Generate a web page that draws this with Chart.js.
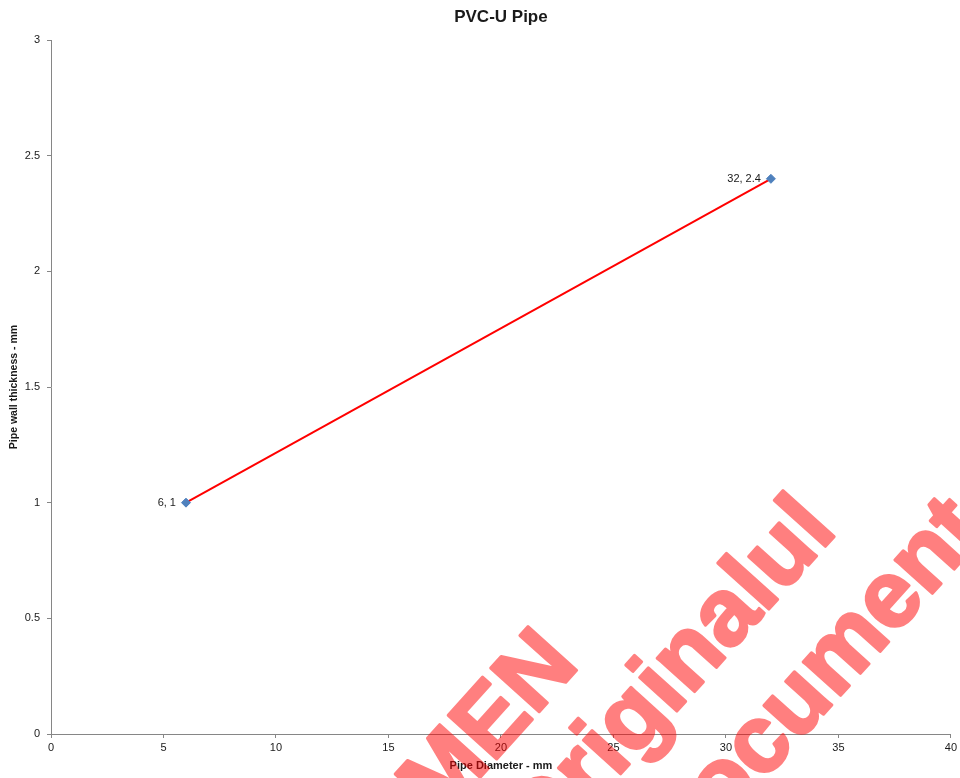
<!DOCTYPE html>
<html>
<head>
<meta charset="utf-8">
<script src="https://cdn.jsdelivr.net/npm/chart.js@4.4.1/dist/chart.umd.min.js"></script>
<style>
  html, body { margin: 0; padding: 0; background: #fff; }
  #wrap { width: 960px; height: 778px; }
</style>
</head>
<body>
<div id="wrap"><canvas id="pipeChart" width="960" height="778"></canvas></div>
<script>
const pipeDiameter = [6, 32];
const wallThickness = [1, 2.4];
const xTicks = [0, 5, 10, 15, 20, 25, 30, 35, 40];
const yTicks = [0, 0.5, 1, 1.5, 2, 2.5, 3];
const chartTitle = "PVC-U Pipe";
const watermarkLines = ["SPECIMEN", "Originalul", "Document"];

const FONT = "'Liberation Sans', Arial, sans-serif";
const TEXT = "#1a1a1a";
const AXIS = "#868686";

// title centred over the plot area, point labels, watermark on top
const extras = {
  id: "extras",
  afterDatasetsDraw(chart) {
    const { ctx, chartArea } = chart;
    const xs = chart.scales.x, ys = chart.scales.y;
    ctx.save();
    ctx.fillStyle = TEXT;
    ctx.font = "bold 17px " + FONT;
    ctx.textAlign = "center";
    ctx.textBaseline = "middle";
    ctx.fillText(chartTitle, (chartArea.left + chartArea.right) / 2, 17);

    ctx.font = "11px " + FONT;
    ctx.textAlign = "right";
    pipeDiameter.forEach((d, i) => {
      const px = xs.getPixelForValue(d);
      const py = ys.getPixelForValue(wallThickness[i]);
      ctx.fillText(`${d}, ${wallThickness[i]}`, px - 10, py);
    });
    ctx.restore();
  },
  afterDraw(chart) {
    // draw solid on a scratch canvas, then lay it over at half opacity
    const off = document.createElement("canvas");
    off.width = chart.width;
    off.height = chart.height;
    const o = off.getContext("2d");
    o.rotate(-48 * Math.PI / 180);
    o.fillStyle = "#ff0000";
    o.strokeStyle = "#ff0000";
    o.lineWidth = 3;
    o.lineJoin = "round";
    o.font = "bold 95px " + FONT;
    o.textAlign = "right";
    o.textBaseline = "alphabetic";
    const anchors = [[-106, 877], [166, 979], [266, 1090]];
    watermarkLines.forEach((t, i) => {
      o.fillText(t, anchors[i][0], anchors[i][1]);
      o.strokeText(t, anchors[i][0], anchors[i][1]);
    });
    const ctx = chart.ctx;
    ctx.save();
    ctx.globalAlpha = 0.5;
    ctx.drawImage(off, 0, 0);
    ctx.restore();
  }
};

new Chart(document.getElementById("pipeChart"), {
  type: "scatter",
  data: {
    datasets: [{
      data: pipeDiameter.map((d, i) => ({ x: d, y: wallThickness[i] })),
      showLine: true,
      borderColor: "#ff0000",
      borderWidth: 2,
      pointStyle: "rectRot",
      pointRadius: 4.5,
      pointBackgroundColor: "#4f81bd",
      pointBorderColor: "#4f81bd",
      pointBorderWidth: 1
    }]
  },
  options: {
    responsive: false,
    animation: false,
    layout: { padding: { top: 40, right: 9, bottom: 0, left: 0 } },
    plugins: {
      legend: { display: false },
      tooltip: { enabled: false },
      title: { display: false }
    },
    scales: {
      x: {
        type: "linear",
        min: 0,
        max: 40,
        afterBuildTicks: s => { s.ticks = xTicks.map(v => ({ value: v })); },
        afterFit: s => { s.height = 44; },
        grid: { drawOnChartArea: false, drawTicks: true, tickLength: 4, color: AXIS },
        border: { color: AXIS, width: 1 },
        ticks: { color: TEXT, font: { family: FONT, size: 11 }, padding: 3, maxRotation: 0, callback: v => String(v) },
        title: {
          display: true,
          text: "Pipe Diameter - mm",
          color: TEXT,
          font: { family: FONT, size: 11, weight: "bold" },
          padding: { top: 4, bottom: 5 }
        }
      },
      y: {
        type: "linear",
        min: 0,
        max: 3,
        afterBuildTicks: s => { s.ticks = yTicks.map(v => ({ value: v })); },
        afterFit: s => { s.width = 51; },
        grid: { drawOnChartArea: false, drawTicks: true, tickLength: 4, color: AXIS },
        border: { color: AXIS, width: 1 },
        ticks: { color: TEXT, font: { family: FONT, size: 11 }, padding: 7, callback: v => String(v) },
        title: {
          display: true,
          text: "Pipe wall thickness - mm",
          color: TEXT,
          font: { family: FONT, size: 10.5, weight: "bold" },
          padding: { top: 8, bottom: 4 }
        }
      }
    }
  },
  plugins: [extras]
});
</script>
</body>
</html>
